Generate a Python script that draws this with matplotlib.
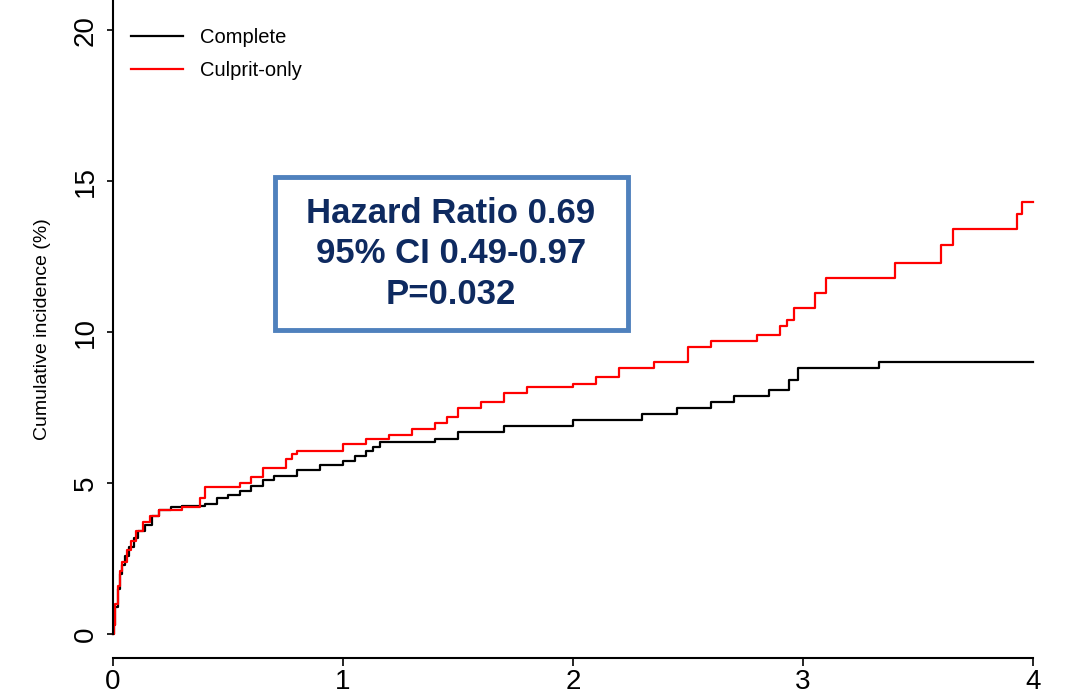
import matplotlib
matplotlib.use("Agg")
import matplotlib.pyplot as plt
from matplotlib.patches import FancyBboxPatch

plt.rcParams['font.family'] = ['Liberation Sans', 'DejaVu Sans']

comp_t = [0, 0.005, 0.01, 0.02, 0.03, 0.04, 0.05, 0.07, 0.09, 0.11, 0.14, 0.17, 0.2, 0.25, 0.3, 0.4, 0.45, 0.5, 0.55, 0.6, 0.65, 0.7, 0.8, 0.9, 1.0, 1.05, 1.1, 1.13, 1.16, 1.4, 1.5, 1.7, 2.0, 2.3, 2.45, 2.6, 2.7, 2.85, 2.94, 2.98, 3.33, 4.0]
comp_v = [0, 0.3, 0.9, 1.5, 2.0, 2.3, 2.6, 2.9, 3.2, 3.4, 3.6, 3.9, 4.1, 4.2, 4.25, 4.3, 4.5, 4.6, 4.75, 4.9, 5.1, 5.25, 5.45, 5.6, 5.75, 5.9, 6.05, 6.2, 6.35, 6.45, 6.7, 6.9, 7.1, 7.3, 7.5, 7.7, 7.9, 8.1, 8.4, 8.8, 9.0, 9.0]

cul_t = [0, 0.005, 0.01, 0.02, 0.03, 0.04, 0.06, 0.08, 0.1, 0.13, 0.16, 0.2, 0.3, 0.38, 0.4, 0.55, 0.6, 0.65, 0.75, 0.78, 0.8, 1.0, 1.1, 1.2, 1.3, 1.4, 1.45, 1.5, 1.6, 1.7, 1.8, 2.0, 2.1, 2.2, 2.35, 2.5, 2.6, 2.8, 2.9, 2.93, 2.96, 3.05, 3.1, 3.4, 3.6, 3.65, 3.93, 3.95, 4.0]
cul_v = [0, 0.3, 1.0, 1.6, 2.1, 2.4, 2.8, 3.1, 3.4, 3.7, 3.9, 4.1, 4.2, 4.5, 4.87, 5.0, 5.2, 5.5, 5.8, 5.95, 6.05, 6.3, 6.45, 6.6, 6.8, 7.0, 7.2, 7.5, 7.7, 8.0, 8.2, 8.3, 8.5, 8.8, 9.0, 9.5, 9.7, 9.9, 10.2, 10.4, 10.8, 11.3, 11.8, 12.3, 12.9, 13.4, 13.9, 14.3, 14.3]

W, H = 1066, 693
fig = plt.figure(figsize=(W/100, H/100), dpi=100)
ax = fig.add_axes([113/W, (H-658)/H, (1033-113)/W, 658/H])
ax.step(comp_t, comp_v, where='post', color='black', lw=1.6, label='Complete', clip_on=False)
ax.step(cul_t, cul_v, where='post', color='red', lw=1.6, label='Culprit-only', clip_on=False)
ax.set_xlim(0, 4)
ax.set_ylim(-0.79, 21)
ax.spines['top'].set_visible(False)
ax.spines['right'].set_visible(False)
ax.spines['left'].set_bounds(0, 21)
ax.spines['left'].set_linewidth(1.5)
ax.spines['bottom'].set_linewidth(1.5)
ax.set_xticks([0, 1, 2, 3, 4])
ax.set_yticks([0, 5, 10, 15, 20])
ax.tick_params(axis='x', labelsize=20, length=6, width=1.2, pad=2)
ax.tick_params(axis='y', labelsize=20, length=4, width=1.2, pad=6)
for lbl in ax.get_yticklabels():
    lbl.set_rotation(90)
    lbl.set_va('center')
ax.set_ylabel('Cumulative incidence (%)', fontsize=14, labelpad=16)
ax.legend(loc='upper left', bbox_to_anchor=(0.0, 0.985), frameon=False, fontsize=14.5,
          handlelength=2.6, borderaxespad=0.5, labelspacing=0.7)
fig.patches.append(FancyBboxPatch((275/W, (H-330)/H), 353/W, 153/H, boxstyle='square,pad=0',
                                  transform=fig.transFigure, fill=False, edgecolor='#4F81BD', lw=3.5))
fig.text(451/W, (H-254)/H, 'Hazard Ratio 0.69\n95% CI 0.49-0.97\nP=0.032', ha='center', va='center',
         fontsize=25, fontweight='bold', color='#0E2A60', linespacing=1.3)
fig.savefig('out.png', dpi=100)
